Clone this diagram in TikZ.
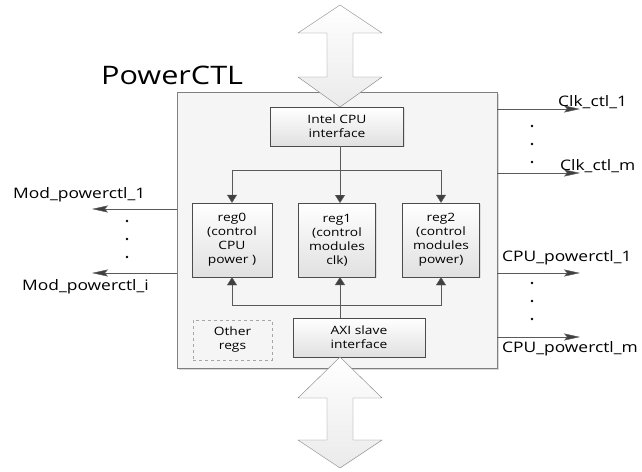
\documentclass[tikz,border=0pt]{standalone}
\usepackage{fontspec}
\setmainfont[FakeStretch=1.2]{Open Sans}
\usepackage{tikz}
\usetikzlibrary{arrows, arrows.meta, positioning, shadows}
\definecolor{edgegray}{HTML}{7F7F7F}
\definecolor{linegray}{HTML}{5A5A5A}
\definecolor{headgray}{HTML}{404040}
\tikzstyle{regbox} = [draw=black!70, top color=white, bottom color=black!12, align=center, font=\fontsize{11.5}{14}\selectfont, inner sep=0pt, drop shadow={shadow xshift=1pt, shadow yshift=-1pt, opacity=0.2}]
\tikzstyle{conn} = [linegray, thin, -{Triangle[length=8pt, width=10pt, fill=headgray]}]
\tikzstyle{outconn} = [linegray, thin, -{Stealth[length=16pt, width=7pt, inset=3pt, fill=headgray]}]
\tikzstyle{outlabel} = [font=\fontsize{14.5}{16}\selectfont, inner sep=0pt]
\tikzstyle{bigarrow} = [draw=edgegray, top color=white, bottom color=black!8]

\begin{document}
\begin{tikzpicture}[x=1pt, y=-1pt]
   \useasboundingbox (0,0) rectangle (642,471);

   % Draw the PowerCTL block
   \node[draw=edgegray, fill=black!4, drop shadow={shadow xshift=2pt, shadow yshift=-2pt, opacity=0.3},
         minimum width=320pt, minimum height=276pt, inner sep=0pt] (main) at (337,230) {};
   \node[anchor=base west, font=\fontsize{25.5}{28}\selectfont, inner sep=0pt] (title) at (101,84) {PowerCTL};

   % Inner blocks
   \node[regbox, minimum width=133pt, minimum height=39pt] (intel) at (337,126.5) {Intel CPU\\interface};
   \node[regbox, minimum width=80pt, minimum height=74pt] (reg0) at (232,240) {reg0\\(control\\CPU\\power )};
   \node[regbox, minimum width=77pt, minimum height=74pt] (reg1) at (337,240) {reg1\\(control\\modules\\clk)};
   \node[regbox, minimum width=77pt, minimum height=74pt] (reg2) at (441,240) {reg2\\(control\\modules\\power)};
   \node[draw=black!35, dashed, fill=black!4, minimum width=79pt, minimum height=40pt, align=center,
         font=\fontsize{11.5}{14}\selectfont, inner sep=0pt] (other) at (232.5,340) {Other\\regs};
   \node[regbox, minimum width=132pt, minimum height=39pt] (axi) at (359,337.5) {AXI slave\\interface};

   % Bus from the CPU interface to the registers
   \coordinate (topbus) at (340,170);
   \draw[conn] (340,146) -- (340,203);
   \draw[conn] (topbus) -| (reg0.north);
   \draw[conn] (topbus) -| (reg2.north);

   % Bus from the AXI interface to the registers
   \coordinate (lowbus) at (340,305);
   \draw[conn] (340,318) -- (340,277);
   \draw[conn] (lowbus) -| (reg0.south);
   \draw[conn] (lowbus) -| (reg2.south);

   % Double arrows to the outside
   \draw[bigarrow] (340,5) -- (382,33) -- (353,33) -- (353,77) -- (382,77) -- (340,107)
      -- (298,77) -- (327,77) -- (327,33) -- (298,33) -- cycle;
   \draw[bigarrow] (340,357) -- (382,398) -- (353,398) -- (353,440) -- (382,440) -- (340,468)
      -- (298,440) -- (327,440) -- (327,398) -- (298,398) -- cycle;

   % Left outputs
   \coordinate (modone) at (92,209);
   \coordinate (modi) at (92,273);
   \draw[outconn] (main.west |- modone) -- (modone);
   \draw[outconn] (main.west |- modi) -- (modi);
   \node[outlabel, anchor=base west] (lmodone) at (13,198) {Mod\_powerctl\_1};
   \node[outlabel, anchor=base west] (lmodi) at (22,290) {Mod\_powerctl\_i};
   \foreach \y in {221,239,257}
      \fill (127,\y) circle (1.3pt);

   % Right outputs
   \coordinate (clkone) at (580,109);
   \coordinate (clkm) at (580,173);
   \coordinate (cpuone) at (580,273);
   \coordinate (cpum) at (580,337);
   \draw[outconn] (main.east |- clkone) -- (clkone);
   \draw[outconn] (main.east |- clkm) -- (clkm);
   \draw[outconn] (main.east |- cpuone) -- (cpuone);
   \draw[outconn] (main.east |- cpum) -- (cpum);
   \node[outlabel, anchor=base west] (lclkone) at (558,106) {Clk\_ctl\_1};
   \node[outlabel, anchor=base west] (lclkm) at (560,170) {Clk\_ctl\_m};
   \node[outlabel, anchor=base west] (lcpuone) at (502,261) {CPU\_powerctl\_1};
   \node[outlabel, anchor=base west] (lcpum) at (502,352) {CPU\_powerctl\_m};
   \foreach \y in {126,144,162}
      \fill (532,\y) circle (1.3pt);
   \foreach \y in {283,301,319}
      \fill (532,\y) circle (1.3pt);

\end{tikzpicture}
\end{document}
